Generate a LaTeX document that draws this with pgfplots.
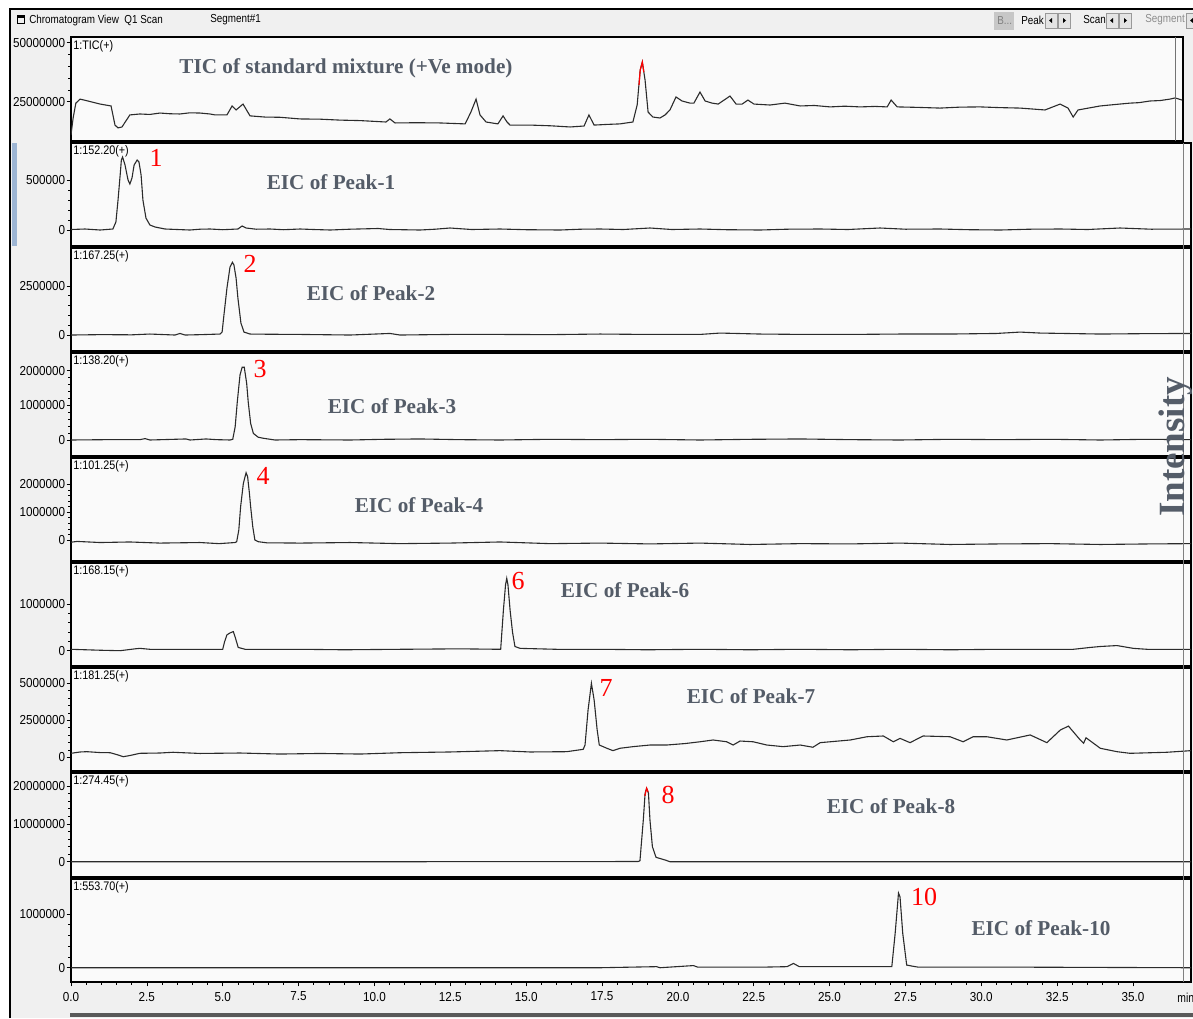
\documentclass[border=0pt]{standalone}
\usepackage{pgfplots}
\pgfplotsset{compat=1.18}
\usepackage{fontspec}
\setmainfont{Liberation Serif}
\setsansfont{Liberation Sans}
\definecolor{winbg}{HTML}{F0F0F0}
\definecolor{panelbg}{HTML}{FAFAFA}
\definecolor{trace}{HTML}{2B2B2B}
\definecolor{titlegray}{HTML}{545C68}
\definecolor{bluebar}{HTML}{9DB5D3}
\definecolor{btn}{HTML}{E4E4E4}
\newcommand{\tfont}{\sffamily\fontsize{6.5}{7}\selectfont}
\newcommand{\lfont}{\sffamily\fontsize{6.2}{7}\selectfont}
\newcommand{\hfont}{\sffamily\fontsize{5.8}{7}\selectfont}
\newcommand{\ttl}{\bfseries\fontsize{10.6}{12}\selectfont}
\newcommand{\rn}{\fontsize{13}{14}\selectfont}
\pgfplotsset{
  panel/.style={
    anchor=north west, scale only axis, width=560pt,
    xmin=0, xmax=36.91,
    axis background/.style={fill=panelbg},
    axis line style={black, line width=0.9pt},
    xtick=\empty,
    ytick pos=left, tick align=outside,
    major tick length=2.2pt, minor tick length=1.3pt,
    every tick/.style={black, line width=0.35pt},
    minor tick num=4,
    yticklabel style={font=\tfont, xscale=0.9, inner sep=0.6pt, text=black},
    clip=true,
  },
  tr/.style={color=trace, line width=0.55pt, mark=none},
}
\begin{document}
\begin{tikzpicture}
\begin{scope}[x=0.5pt,y=-0.5pt]
\path[use as bounding box] (0,0) rectangle (1193,1018);
\fill[white] (0,0) rectangle (1193,1018);
\fill[winbg] (10,9) rectangle (1193,1018);
\draw[black, line width=1pt] (10,1018) -- (10,9) -- (1193,9);
\fill[bluebar] (12,143) rectangle (17,246);
\fill[black!65] (70,1013) rectangle (1193,1017);
% header
\fill[black] (17,15) rectangle (25,18);
\draw[black, line width=0.5pt] (17.5,15.5) rectangle (24.5,23.5);
\node[anchor=west, font=\hfont, xscale=0.85, inner sep=0pt] at (29,20) {Chromatogram View\ \ Q1 Scan};
\node[anchor=west, font=\hfont, xscale=0.85, inner sep=0pt] at (210,20) {Segment\#1};
\fill[black!22] (994,12) rectangle (1014,30);
\node[anchor=west, font=\hfont, xscale=0.85, inner sep=0pt, text=black!50] at (997,21) {B...};
\node[anchor=west, font=\hfont, xscale=0.85, inner sep=0pt] at (1021,20) {Peak};
\node[anchor=west, font=\hfont, xscale=0.85, inner sep=0pt] at (1083,20) {Scan};
\node[anchor=west, font=\hfont, xscale=0.85, inner sep=0pt, text=black!45] at (1145,20) {Segment};
\foreach \bx in {1045,1058,1106,1119,1186}{
  \fill[btn] (\bx,13) rectangle (\bx+12,28);
  \draw[black!40, line width=0.3pt] (\bx,13) rectangle (\bx+12,28);
}
\foreach \bx in {1045,1106,1186}{\fill[black] (\bx+4,20.5) -- (\bx+7,18) -- (\bx+7,23) -- cycle;}
\foreach \bx in {1058,1119}{\fill[black] (\bx+8,20.5) -- (\bx+5,18) -- (\bx+5,23) -- cycle;}
\coordinate (a0) at (71,37);
\coordinate (a1) at (71,143);
\coordinate (a2) at (71,248);
\coordinate (a3) at (71,353);
\coordinate (a4) at (71,458);
\coordinate (a5) at (71,563);
\coordinate (a6) at (71,668);
\coordinate (a7) at (71,773);
\coordinate (a8) at (71,879);
\end{scope}

% TIC
\begin{axis}[panel, at={(a0)}, width=556pt, xmax=36.65, height=52pt,
  ymin=8.35, ymax=52.41, ytick={25,50}, yticklabels={25000000,50000000}]
\addplot[tr] coordinates {(0.00,10.9)(0.07,18.1)(0.16,24.4)(0.30,26.1)(0.56,25.3)(0.96,24.0)(1.32,23.2)(1.45,15.1)(1.55,13.9)(1.68,14.3)(1.94,19.4)(2.27,19.8)(2.60,19.6)(2.93,20.2)(3.26,19.9)(3.59,19.8)(3.92,20.3)(4.25,20.2)(4.58,19.8)(4.75,19.4)(5.14,19.4)(5.31,23.2)(5.44,21.5)(5.67,24.0)(5.90,19.0)(6.39,18.5)(6.89,18.4)(7.55,17.7)(8.21,17.6)(8.87,17.2)(9.53,17.0)(10.38,16.4)(10.51,17.7)(10.68,16.0)(11.40,16.1)(12.16,16.0)(12.99,15.6)(13.18,20.6)(13.35,26.1)(13.48,19.4)(13.68,16.4)(14.07,15.6)(14.24,19.0)(14.37,16.4)(14.47,15.1)(15.13,15.1)(15.80,14.8)(16.45,14.3)(16.91,14.7)(17.07,19.4)(17.24,15.1)(17.70,15.4)(18.09,15.6)(18.52,16.4)(18.66,23.6)(18.76,38.4)(18.83,41.8)(18.92,34.2)(19.02,20.6)(19.18,18.5)(19.41,18.1)(19.58,19.4)(19.74,21.5)(19.94,27.0)(20.14,25.3)(20.40,24.4)(20.53,24.4)(20.73,29.1)(20.90,25.3)(21.13,24.4)(21.33,24.0)(21.72,27.4)(21.92,24.0)(22.12,24.0)(22.31,25.7)(22.51,24.0)(23.04,23.6)(23.53,24.4)(24.03,23.2)(24.50,23.4)(25.02,22.8)(25.50,23.1)(26.01,22.8)(26.50,23.0)(26.90,22.8)(27.03,25.7)(27.23,22.8)(27.90,22.6)(28.64,22.3)(29.30,22.7)(29.96,22.8)(30.60,22.5)(31.28,22.3)(32.10,21.5)(32.60,24.0)(32.86,22.3)(33.03,18.5)(33.19,21.5)(33.92,23.2)(34.40,23.8)(34.90,24.4)(35.20,24.6)(35.56,25.3)(35.90,25.5)(36.22,26.1)(36.39,26.6)(36.62,25.7)};
\addplot[red, line width=0.6pt] coordinates {(18.72,32.0)(18.76,38.4)(18.83,41.8)(18.88,37.5)};
\end{axis}

% Peak-1
\begin{axis}[panel, at={(a1)}, height=51.5pt,
  ymin=-160, ymax=870, ytick={0,500}, yticklabels={0,500000}]
\addplot[tr] coordinates {(0,5)(0.46,10)(0.96,0)(1.38,10)(1.48,80)(1.55,300)(1.62,550)(1.66,700)(1.70,730)(1.78,650)(1.88,500)(1.94,460)(2.01,520)(2.08,650)(2.18,700)(2.24,680)(2.31,550)(2.37,300)(2.47,120)(2.60,50)(2.77,30)(3.10,10)(3.50,5)(3.92,0)(4.25,8)(4.58,10)(5.00,3)(5.50,10)(5.64,40)(5.77,20)(6.10,8)(6.56,10)(7.00,3)(7.55,10)(8.00,5)(8.54,0)(9.20,8)(10.12,15)(10.50,5)(11.50,0)(12.00,8)(12.49,20)(13.20,5)(14.14,10)(15.00,3)(16.12,0)(16.80,8)(17.44,10)(18.20,5)(19.08,20)(19.80,5)(20.73,10)(21.60,3)(22.71,0)(23.60,8)(24.69,10)(25.60,5)(26.66,20)(27.50,8)(28.64,10)(29.60,3)(30.62,0)(31.60,8)(32.60,10)(33.50,5)(34.57,20)(35.60,8)(36.91,10)};
\end{axis}

% Peak-2
\begin{axis}[panel, at={(a2)}, height=51.5pt,
  ymin=-0.816, ymax=4.439, ytick={0,2.5}, yticklabels={0,2500000}]
\addplot[tr] coordinates {(0,0)(1.00,0.02)(2.00,0.01)(2.60,0.05)(3.43,0)(3.59,0.08)(3.76,0)(4.30,0.02)(4.91,0.05)(4.98,0.15)(5.04,1.02)(5.14,2.40)(5.24,3.47)(5.32,3.71)(5.37,3.57)(5.44,2.91)(5.50,1.89)(5.60,0.61)(5.70,0.15)(5.90,0.05)(6.50,0.04)(7.55,0.03)(9.20,0)(10.51,0.08)(10.84,0)(12.50,0.03)(14.14,0.03)(15.80,0.02)(17.44,0.05)(19.00,0.03)(20.73,0.03)(21.39,0.10)(22.71,0.05)(24.20,0.03)(25.68,0.03)(27.30,0.05)(28.97,0.05)(30.50,0.08)(31.28,0.15)(31.94,0.10)(33.92,0.05)(35.40,0.07)(36.91,0.08)};
\end{axis}

% Peak-3
\begin{axis}[panel, at={(a3)}, height=51.5pt,
  ymin=-0.462, ymax=2.511, ytick={0,1,2}, yticklabels={0,1000000,2000000}]
\addplot[tr] coordinates {(0,0)(1.20,0.01)(2.27,0.01)(2.44,0.04)(2.60,0)(3.79,0.03)(3.92,0)(4.45,0.03)(4.80,0.01)(5.24,0)(5.33,0.02)(5.41,0.38)(5.48,1.10)(5.57,1.88)(5.64,2.10)(5.71,2.10)(5.79,1.63)(5.84,1.10)(5.92,0.48)(6.01,0.19)(6.17,0.08)(6.34,0.05)(6.72,0)(7.55,0.01)(9.20,0)(10.30,0.02)(11.50,0.03)(12.80,0.01)(14.14,0)(15.80,0.02)(17.44,0.01)(19.00,0.02)(20.73,0)(22.40,0.02)(24.03,0.03)(25.70,0.01)(27.32,0)(29.00,0.02)(30.62,0.01)(32.30,0.02)(33.92,0)(35.40,0.02)(36.91,0.01)};
\end{axis}

% Peak-4
\begin{axis}[panel, at={(a4)}, height=51.5pt,
  ymin=-0.755, ymax=2.950, ytick={0,1,2}, yticklabels={0,1000000,2000000}]
\addplot[tr] coordinates {(0,-0.08)(0.20,-0.05)(0.96,-0.09)(1.94,-0.07)(2.93,-0.11)(4.25,-0.09)(4.88,-0.13)(5.41,-0.09)(5.46,-0.06)(5.53,0.36)(5.59,1.20)(5.68,2.04)(5.77,2.42)(5.82,2.28)(5.88,1.68)(5.92,1.20)(5.99,0.48)(6.06,0)(6.17,-0.06)(6.45,-0.10)(7.55,-0.11)(9.20,-0.09)(10.84,-0.13)(12.49,-0.11)(14.14,-0.07)(15.79,-0.13)(17.44,-0.11)(19.08,-0.14)(20.73,-0.11)(22.38,-0.16)(24.03,-0.13)(25.68,-0.14)(27.32,-0.11)(28.97,-0.16)(30.62,-0.14)(32.27,-0.13)(33.92,-0.16)(35.56,-0.14)(36.91,-0.13)};
\end{axis}

% Peak-6
\begin{axis}[panel, at={(a5)}, height=51.5pt,
  ymin=-0.328, ymax=1.878, ytick={0,1}, yticklabels={0,1000000}]
\addplot[tr] coordinates {(0,0.03)(0.96,0.01)(1.62,0.00)(2.11,0.04)(2.27,0.05)(2.60,0.03)(4.25,0.03)(5.00,0.03)(5.06,0.19)(5.14,0.34)(5.24,0.38)(5.35,0.41)(5.42,0.27)(5.51,0.07)(5.74,0.03)(7.55,0.03)(9.00,0.02)(10.84,0.03)(12.82,0.04)(14.16,0.03)(14.25,0.87)(14.32,1.41)(14.36,1.55)(14.40,1.41)(14.47,0.87)(14.55,0.40)(14.63,0.09)(14.80,0.05)(16.00,0.03)(17.44,0.03)(19.00,0.02)(20.73,0.03)(22.40,0.02)(24.03,0.03)(25.70,0.02)(27.32,0.03)(29.00,0.02)(30.62,0.03)(33.03,0.03)(33.59,0.07)(33.92,0.09)(34.47,0.11)(35.01,0.05)(35.46,0.03)(36.91,0.03)};
\end{axis}

% Peak-7
\begin{axis}[panel, at={(a6)}, height=51.5pt,
  ymin=-0.926, ymax=6.034, ytick={0,2.5,5}, yticklabels={0,2500000,5000000}]
\addplot[tr] coordinates {(0,0.27)(0.30,0.36)(0.52,0.38)(0.96,0.32)(1.29,0.31)(1.55,0.16)(1.72,0.04)(1.94,0.12)(2.27,0.27)(2.93,0.29)(3.36,0.34)(4.25,0.26)(5.57,0.29)(6.89,0.22)(8.21,0.26)(9.53,0.22)(10.84,0.31)(12.49,0.36)(14.14,0.45)(15.13,0.36)(16.34,0.38)(16.88,0.54)(16.94,0.83)(17.04,3.20)(17.15,5.00)(17.24,3.87)(17.34,1.84)(17.41,0.83)(17.66,0.61)(17.86,0.45)(18.09,0.61)(18.52,0.72)(19.08,0.83)(19.63,0.83)(20.24,0.93)(20.73,1.05)(21.16,1.17)(21.61,1.05)(21.82,0.83)(22.05,1.10)(22.48,1.05)(22.93,0.83)(23.47,0.72)(24.03,0.83)(24.45,0.68)(24.69,0.99)(25.68,1.17)(26.23,1.39)(26.77,1.44)(27.10,1.05)(27.32,1.28)(27.65,0.99)(28.08,1.44)(28.97,1.39)(29.40,1.05)(29.73,1.39)(30.18,1.39)(30.84,1.17)(31.61,1.51)(32.16,0.99)(32.60,1.84)(32.87,2.11)(33.26,1.17)(33.37,0.95)(33.45,1.32)(33.92,0.61)(34.47,0.38)(34.90,0.27)(36.11,0.34)(36.91,0.45)};
\end{axis}

% Peak-8
\begin{axis}[panel, at={(a7)}, height=52pt,
  ymin=-4.042, ymax=23.435, ytick={0,10,20}, yticklabels={0,10000000,20000000}]
\addplot[tr] coordinates {(0,0)(10.84,0)(18.69,0.05)(18.75,0.26)(18.86,11.0)(18.92,18.1)(18.97,19.4)(19.03,18.1)(19.08,11.0)(19.16,3.96)(19.28,1.16)(19.58,0.45)(19.74,0)(36.91,0)};
\addplot[red, line width=0.6pt] coordinates {(18.91,17.4)(18.97,19.4)(19.02,18.4)};
\end{axis}

% Peak-10
\begin{axis}[panel, at={(a8)}, height=51.5pt,
  ymin=-0.266, ymax=1.652, ytick={0,1}, yticklabels={0,1000000},
  xtick={0,2.5,...,35}, xtick pos=bottom,
  xticklabels={0.0,2.5,5.0,7.5,10.0,12.5,15.0,17.5,20.0,22.5,25.0,27.5,30.0,32.5,35.0},
  xticklabel style={font=\tfont, xscale=0.9, inner sep=0.6pt, text=black, yshift=-2pt}]
\addplot[tr] coordinates {(0,0)(17.44,0)(19.30,0.02)(19.41,0)(20.51,0.04)(20.66,0.01)(22.71,0.01)(23.60,0.02)(23.81,0.08)(24.00,0.02)(24.91,0.02)(26.01,0.02)(26.67,0.02)(27.05,0.02)(27.16,0.64)(27.27,1.39)(27.32,1.32)(27.41,0.64)(27.54,0.05)(27.72,0.03)(27.93,0.01)(31.71,0.01)(36.91,0)};
\end{axis}

\begin{scope}[x=0.5pt,y=-0.5pt]
\draw[black!55, line width=0.5pt] (1175,37) -- (1175,141);
\draw[black!50, line width=0.5pt] (1183,143) -- (1183,982);
\node[anchor=west, font=\tfont, xscale=0.8, inner sep=0pt] at (1177,998) {min};
% panel labels
\foreach \yy/\lab in {46/1:TIC(+), 151/1:152.20(+), 256/1:167.25(+), 361/1:138.20(+), 466/1:101.25(+), 571/1:168.15(+), 676/1:181.25(+), 781/1:274.45(+), 887/1:553.70(+)}{
  \node[anchor=west, font=\lfont, xscale=0.87, inner sep=0pt] at (73,\yy) {\lab};
}
% titles
\node[font=\ttl, text=titlegray] at (346,68) {TIC of standard mixture (+Ve mode)};
\node[font=\ttl, text=titlegray] at (331,182) {EIC of Peak-1};
\node[font=\ttl, text=titlegray] at (371,293) {EIC of Peak-2};
\node[font=\ttl, text=titlegray] at (392,406) {EIC of Peak-3};
\node[font=\ttl, text=titlegray] at (419,505) {EIC of Peak-4};
\node[font=\ttl, text=titlegray] at (625,590) {EIC of Peak-6};
\node[font=\ttl, text=titlegray] at (751,696) {EIC of Peak-7};
\node[font=\ttl, text=titlegray] at (891,806) {EIC of Peak-8};
\node[font=\ttl, text=titlegray] at (1041,928) {EIC of Peak-10};
% red peak numbers
\node[font=\rn, text=red] at (156,158) {1};
\node[font=\rn, text=red] at (250,264) {2};
\node[font=\rn, text=red] at (260,369) {3};
\node[font=\rn, text=red] at (263,476) {4};
\node[font=\rn, text=red] at (518,581) {6};
\node[font=\rn, text=red] at (606,688) {7};
\node[font=\rn, text=red] at (668,795) {8};
\node[font=\rn, text=red] at (924,897) {10};
\node[rotate=90, font=\bfseries\fontsize{18.5}{20}\selectfont, text=titlegray] at (1176,447) {Intensity};
\pgfresetboundingbox
\path[use as bounding box] (0,0) rectangle (1193,1018);
\end{scope}
\end{tikzpicture}
\end{document}
